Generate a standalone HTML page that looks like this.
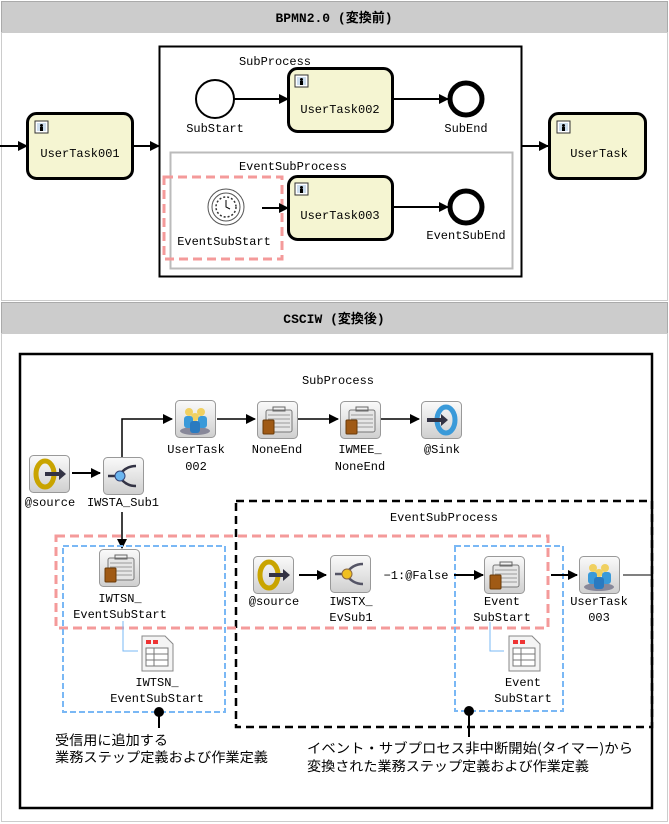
<!DOCTYPE html>
<html><head><meta charset="utf-8"><style>
html,body{margin:0;padding:0;background:#fff}
svg{display:block}
text{font-family:"Liberation Mono","Noto Sans CJK JP",monospace;font-size:12px;fill:#000}
.c{text-anchor:middle}
.j{font-family:"Noto Sans CJK JP","Liberation Sans",sans-serif;font-size:13.5px}
</style></head><body>
<svg width="669" height="824" viewBox="0 0 669 824" xmlns="http://www.w3.org/2000/svg">
<defs>
<marker id="ar" markerWidth="10" markerHeight="10" refX="9" refY="5" orient="auto" markerUnits="userSpaceOnUse"><path d="M0,0 L10,5 L0,10 z" fill="#000"/></marker>
<linearGradient id="ig" x1="0" y1="0" x2="0" y2="1"><stop offset="0" stop-color="#fafafa"/><stop offset="1" stop-color="#cfcfcf"/></linearGradient>
<g id="ibox"><rect x="0.5" y="0.5" width="40" height="37" rx="4" fill="url(#ig)" stroke="#999"/></g>
<g id="i-src"><use href="#ibox"/><ellipse cx="16" cy="19" rx="9" ry="13" fill="none" stroke="#c9a400" stroke-width="5"/><path d="M16 19 H32" stroke="#334" stroke-width="4"/><path d="M30 13 L37 19 L30 25z" fill="#334"/></g>
<g id="i-sink"><use href="#ibox"/><ellipse cx="25" cy="19" rx="9" ry="13" fill="none" stroke="#3a9ad9" stroke-width="5"/><path d="M6 19 H22" stroke="#334" stroke-width="4"/><path d="M20 13 L27 19 L20 25z" fill="#334"/></g>
<g id="i-brc"><use href="#ibox"/><path d="M5 19 H14 M16 19 Q22 9 33 9 M16 19 Q22 29 33 29" stroke="#334" stroke-width="2.5" fill="none"/><circle cx="17" cy="19" r="5" fill="#6bb6f0" stroke="#347"/></g>
<g id="i-brc2"><use href="#ibox"/><path d="M5 19 H14 M16 19 Q22 9 33 9 M16 19 Q22 29 33 29" stroke="#556" stroke-width="2.5" fill="none"/><circle cx="17" cy="19" r="5" fill="#f0c020" stroke="#864"/></g>
<g id="i-user"><use href="#ibox"/><ellipse cx="20" cy="31" rx="15" ry="4" fill="#889"/><circle cx="14" cy="12" r="4" fill="#f0d060"/><circle cx="26" cy="12" r="4" fill="#f0d060"/><circle cx="20" cy="17" r="4" fill="#f0d060"/><rect x="9" y="16" width="9" height="12" rx="3" fill="#3a9ad9"/><rect x="23" y="16" width="9" height="12" rx="3" fill="#3a9ad9"/><rect x="15" y="21" width="10" height="12" rx="3" fill="#2a7ac0"/></g>
<g id="i-case"><use href="#ibox"/><rect x="9" y="9" width="26" height="22" rx="2" fill="#e6e6e6" stroke="#777"/><path d="M11 14 H33 M11 18 H33 M11 22 H33 M11 26 H33" stroke="#999"/><rect x="16" y="6" width="12" height="4" fill="none" stroke="#666"/><rect x="6" y="19" width="11" height="14" rx="1" fill="#a05a15" stroke="#6a3a08"/></g>
<g id="i-doc"><path d="M1 1 H24 L32 9 V36 H1z" fill="#f4f4f4" stroke="#888"/><rect x="5" y="5" width="5" height="4" fill="#e33"/><rect x="12" y="5" width="5" height="4" fill="#e33"/><rect x="5" y="13" width="22" height="18" fill="#fff" stroke="#777"/><path d="M5 19 H27 M5 25 H27 M13 13 V31" stroke="#777"/></g>
<g id="tkico"><rect x="0" y="0" width="13" height="12" fill="#fff" stroke="#333"/><rect x="2" y="2" width="9" height="8" fill="#cde"/><circle cx="6.5" cy="4.5" r="1.5" fill="#000"/><rect x="5" y="6" width="3" height="4" fill="#000"/></g>
</defs>

<rect x="1.5" y="1.5" width="666" height="31" fill="#cccccc" stroke="#aaa"/>
<text x="334" y="22" class="c" style="font-weight:bold;font-size:13px">BPMN2.0 (変換前)</text>
<rect x="1.5" y="32.5" width="666" height="268" fill="#fff" stroke="#ccc"/>

<line x1="0" y1="146" x2="27" y2="146" stroke="#000" stroke-width="2" marker-end="url(#ar)"/>
<rect x="27.5" y="113.5" width="105" height="65" rx="9" fill="#f5f5d2" stroke="#000" stroke-width="3"/>
<use href="#tkico" x="35" y="121"/>
<text x="80" y="157" class="c">UserTask001</text>
<line x1="133" y1="146" x2="159" y2="146" stroke="#000" stroke-width="2" marker-end="url(#ar)"/>

<rect x="159.5" y="46.5" width="362" height="230" fill="none" stroke="#000" stroke-width="2"/>
<text x="275" y="65" class="c">SubProcess</text>
<circle cx="215" cy="99" r="19" fill="#fff" stroke="#000" stroke-width="2"/>
<text x="215" y="132" class="c">SubStart</text>
<line x1="234" y1="99" x2="288" y2="99" stroke="#000" stroke-width="2" marker-end="url(#ar)"/>
<rect x="288.5" y="68.5" width="104" height="63" rx="9" fill="#f5f5d2" stroke="#000" stroke-width="3"/>
<use href="#tkico" x="295" y="75"/>
<text x="340" y="113" class="c">UserTask002</text>
<line x1="392" y1="99" x2="448" y2="99" stroke="#000" stroke-width="2" marker-end="url(#ar)"/>
<circle cx="466" cy="99" r="16" fill="#fff" stroke="#000" stroke-width="5"/>
<text x="466" y="132" class="c">SubEnd</text>

<rect x="170.5" y="152.5" width="342" height="116" fill="none" stroke="#bbb" stroke-width="2"/>
<text x="293" y="170" class="c">EventSubProcess</text>
<rect x="164" y="177" width="118" height="82" fill="none" stroke="#f49a9a" stroke-width="3" stroke-dasharray="9,5"/>
<circle cx="226" cy="207" r="18" fill="#fff" stroke="#555" stroke-width="1"/>
<circle cx="226" cy="207" r="14" fill="#fff" stroke="#555" stroke-width="1"/>
<circle cx="226" cy="207" r="10" fill="#fff" stroke="#333" stroke-width="1.5" stroke-dasharray="2,2"/>
<path d="M226 200 V207 L230 209" stroke="#000" fill="none"/>
<text x="224" y="245" class="c">EventSubStart</text>
<line x1="262" y1="208" x2="288" y2="208" stroke="#000" stroke-width="2" marker-end="url(#ar)"/>
<rect x="288.5" y="176.5" width="104" height="63" rx="9" fill="#f5f5d2" stroke="#000" stroke-width="3"/>
<use href="#tkico" x="295" y="183"/>
<text x="340" y="219" class="c">UserTask003</text>
<line x1="392" y1="207" x2="448" y2="207" stroke="#000" stroke-width="2" marker-end="url(#ar)"/>
<circle cx="466" cy="207" r="16" fill="#fff" stroke="#000" stroke-width="5"/>
<text x="466" y="239" class="c">EventSubEnd</text>

<line x1="521" y1="146" x2="548" y2="146" stroke="#000" stroke-width="2" marker-end="url(#ar)"/>
<rect x="549.5" y="113.5" width="96" height="65" rx="9" fill="#f5f5d2" stroke="#000" stroke-width="3"/>
<use href="#tkico" x="557" y="121"/>
<text x="599" y="157" class="c">UserTask</text>

<rect x="1.5" y="302.5" width="666" height="31" fill="#cccccc" stroke="#aaa"/>
<text x="334" y="323" class="c" style="font-weight:bold;font-size:13px">CSCIW (変換後)</text>
<rect x="1.5" y="333.5" width="666" height="488" fill="#fff" stroke="#ccc"/>

<rect x="20" y="354" width="632" height="454" fill="none" stroke="#000" stroke-width="2.5"/>
<text x="338" y="384" class="c">SubProcess</text>

<use href="#i-src" x="29" y="455"/>
<text x="50" y="506" class="c">@source</text>
<line x1="72" y1="473" x2="100" y2="473" stroke="#000" stroke-width="2" marker-end="url(#ar)"/>
<use href="#i-brc" x="103" y="457"/>
<text x="123" y="506" class="c">IWSTA_Sub1</text>
<polyline points="122,457 122,419 172,419" fill="none" stroke="#000" stroke-width="1.5" marker-end="url(#ar)"/>
<use href="#i-user" x="175" y="400"/>
<text x="196" y="453" class="c">UserTask</text>
<text x="196" y="470" class="c">002</text>
<line x1="217" y1="419" x2="255" y2="419" stroke="#000" stroke-width="1.5" marker-end="url(#ar)"/>
<use href="#i-case" x="257" y="401"/>
<text x="277" y="453" class="c">NoneEnd</text>
<line x1="298" y1="419" x2="338" y2="419" stroke="#000" stroke-width="1.5" marker-end="url(#ar)"/>
<use href="#i-case" x="340" y="401"/>
<text x="360" y="453" class="c">IWMEE_</text>
<text x="360" y="470" class="c">NoneEnd</text>
<line x1="381" y1="419" x2="419" y2="419" stroke="#000" stroke-width="1.5" marker-end="url(#ar)"/>
<use href="#i-sink" x="421" y="401"/>
<text x="442" y="453" class="c">@Sink</text>

<line x1="122" y1="512" x2="122" y2="548" stroke="#000" stroke-width="1.5" marker-end="url(#ar)"/>

<rect x="236" y="501" width="416" height="226" fill="none" stroke="#000" stroke-width="2.5" stroke-dasharray="8,5"/>
<text x="444" y="521" class="c">EventSubProcess</text>

<rect x="56" y="536" width="492" height="92" fill="none" stroke="#f49a9a" stroke-width="3" stroke-dasharray="9,5"/>
<rect x="63" y="546" width="162" height="166" fill="none" stroke="#7ab8f5" stroke-width="2" stroke-dasharray="6,3"/>
<rect x="455" y="546" width="108" height="165" fill="none" stroke="#7ab8f5" stroke-width="2" stroke-dasharray="6,3"/>

<use href="#i-case" x="99" y="549"/>
<text x="120" y="602" class="c">IWTSN_</text>
<text x="120" y="618" class="c">EventSubStart</text>
<polyline points="123,621 123,651 138,651" fill="none" stroke="#7ab8f5" stroke-width="1"/>
<use href="#i-doc" x="141" y="635"/>
<text x="157" y="686" class="c">IWTSN_</text>
<text x="157" y="702" class="c">EventSubStart</text>
<circle cx="159" cy="712" r="5" fill="#000"/>
<line x1="159" y1="712" x2="159" y2="728" stroke="#000" stroke-width="2"/>
<text x="55" y="745" class="j" textLength="113" lengthAdjust="spacingAndGlyphs">受信用に追加する</text>
<text x="55" y="762" class="j" textLength="213" lengthAdjust="spacingAndGlyphs">業務ステップ定義および作業定義</text>

<use href="#i-src" x="253" y="556"/>
<text x="274" y="605" class="c">@source</text>
<line x1="299" y1="575" x2="326" y2="575" stroke="#000" stroke-width="2" marker-end="url(#ar)"/>
<use href="#i-brc2" x="330" y="555"/>
<text x="351" y="605" class="c">IWSTX_</text>
<text x="351" y="621" class="c">EvSub1</text>
<text x="416" y="579" class="c">−1:@False</text>
<line x1="454" y1="575" x2="483" y2="575" stroke="#000" stroke-width="2" marker-end="url(#ar)"/>
<use href="#i-case" x="484" y="556"/>
<text x="502" y="605" class="c">Event</text>
<text x="502" y="621" class="c">SubStart</text>
<polyline points="490,622 490,651 504,651" fill="none" stroke="#7ab8f5" stroke-width="1"/>
<use href="#i-doc" x="508" y="635"/>
<text x="523" y="686" class="c">Event</text>
<text x="523" y="702" class="c">SubStart</text>
<line x1="551" y1="575" x2="577" y2="575" stroke="#000" stroke-width="2" marker-end="url(#ar)"/>
<use href="#i-user" x="579" y="556"/>
<text x="599" y="605" class="c">UserTask</text>
<text x="599" y="621" class="c">003</text>
<line x1="623" y1="575" x2="652" y2="575" stroke="#000" stroke-width="1"/>
<circle cx="469" cy="711" r="5" fill="#000"/>
<line x1="469" y1="711" x2="469" y2="737" stroke="#000" stroke-width="2"/>
<text x="307" y="753" class="j" textLength="326" lengthAdjust="spacingAndGlyphs">イベント・サブプロセス非中断開始(タイマー)から</text>
<text x="307" y="771" class="j" textLength="282" lengthAdjust="spacingAndGlyphs">変換された業務ステップ定義および作業定義</text>
</svg>
</body></html>
